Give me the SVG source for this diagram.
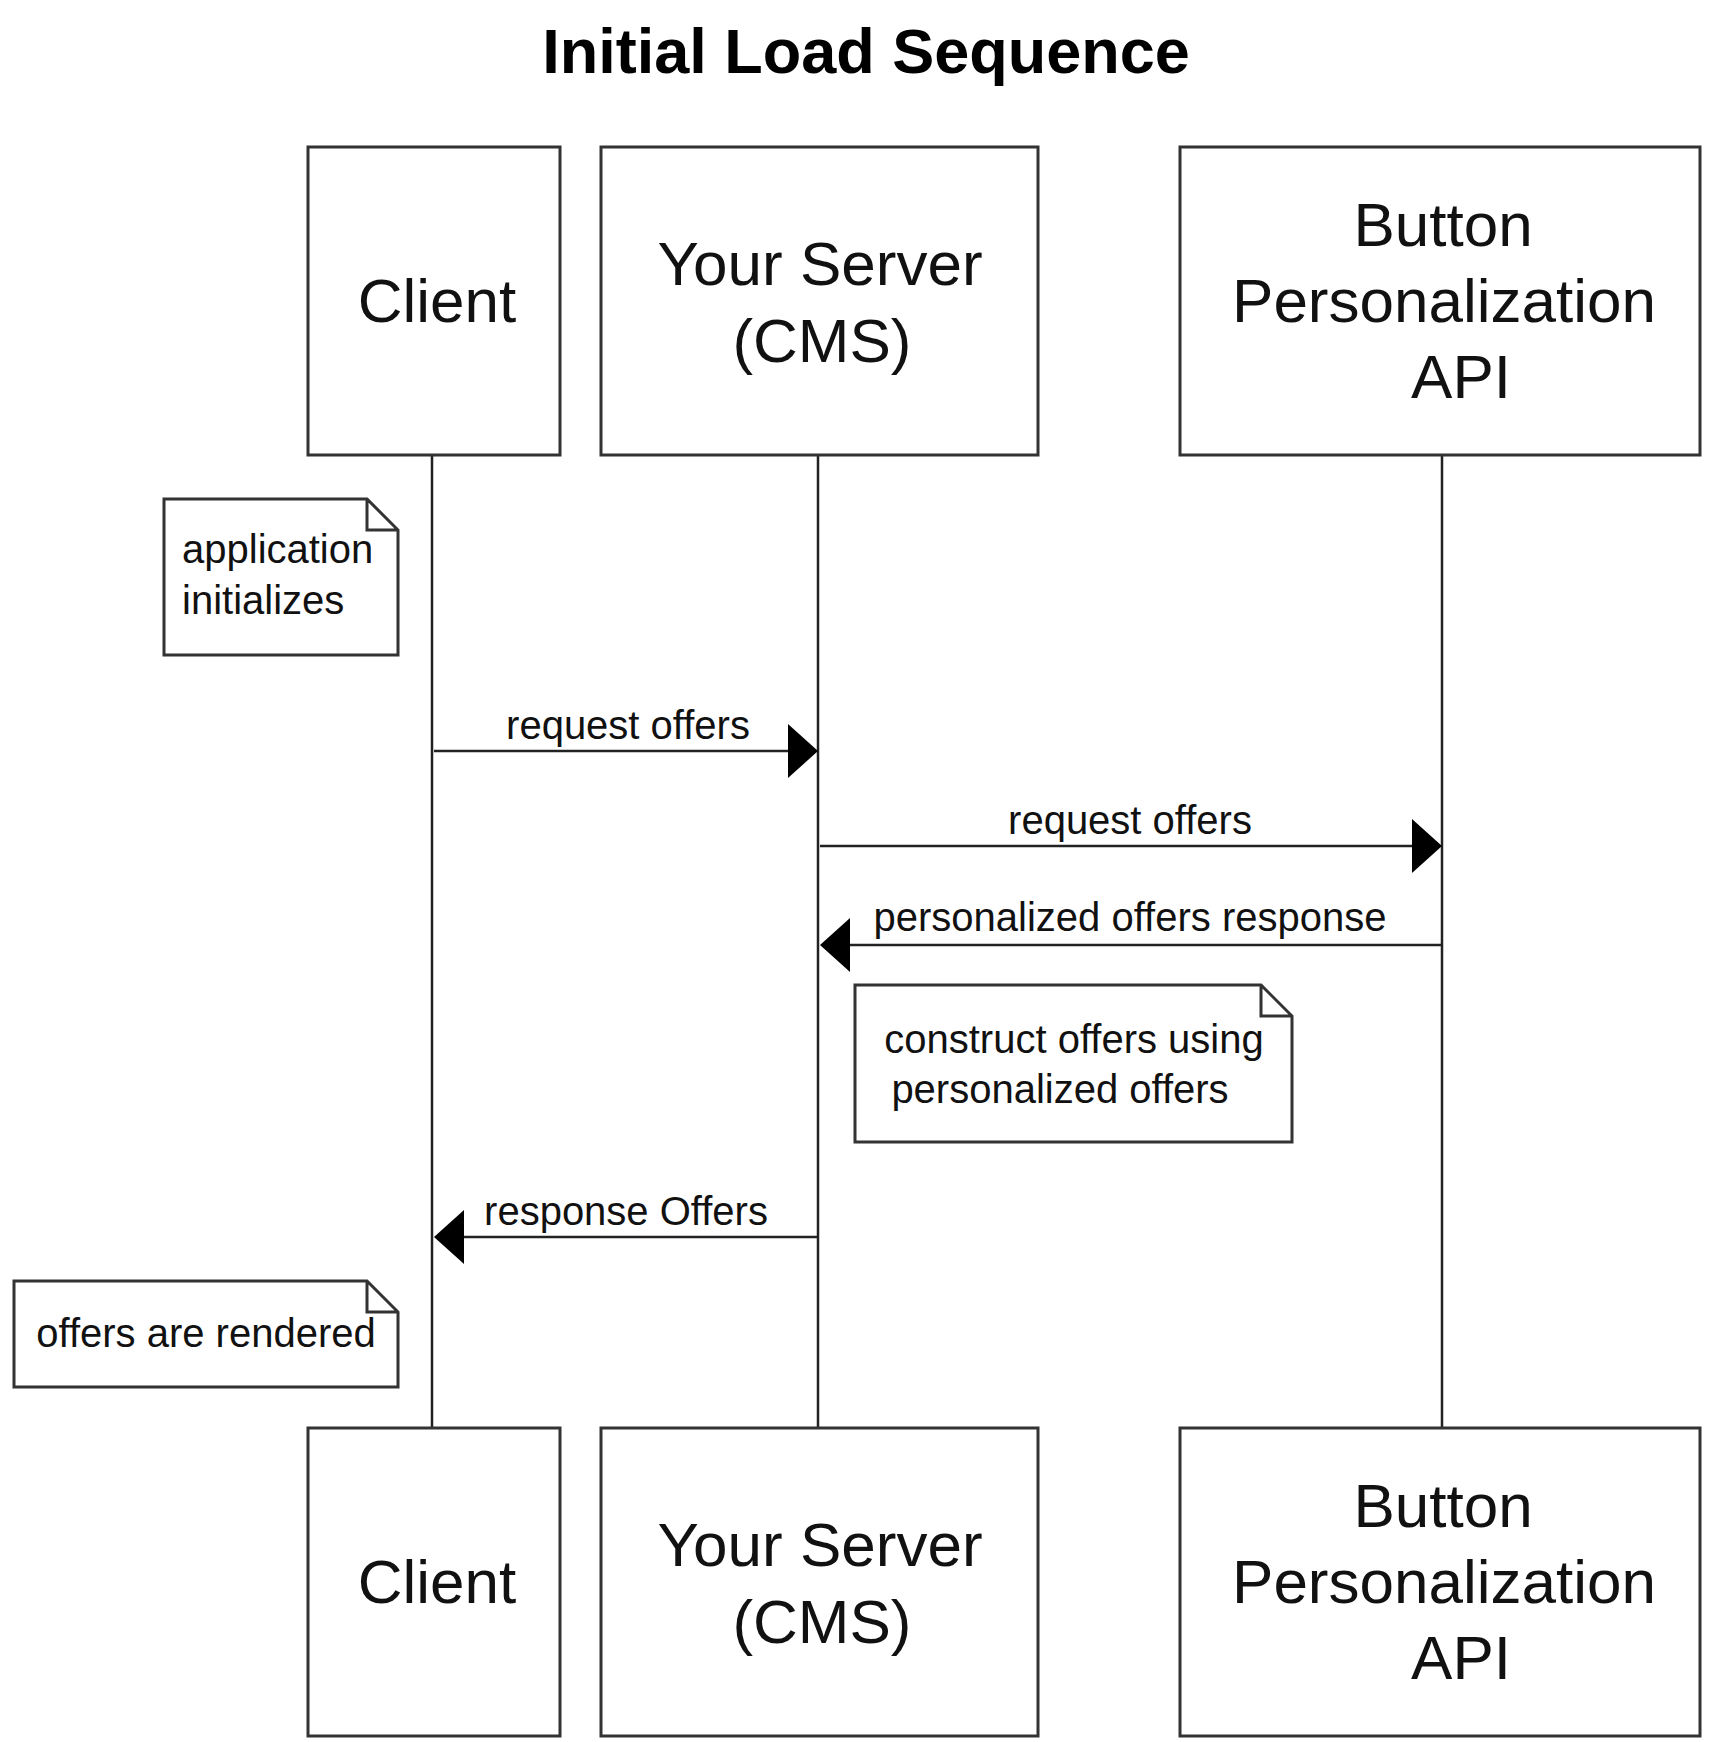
<svg xmlns="http://www.w3.org/2000/svg" width="1728" height="1742" viewBox="0 0 1728 1742">
<style>
.box{fill:#fff;stroke:#333;stroke-width:3}
.lt{font-family:"Liberation Sans",Arial,sans-serif;font-size:62px;fill:#111;text-anchor:middle}
.mt{font-family:"Liberation Sans",Arial,sans-serif;font-size:40px;fill:#111;text-anchor:middle}
.ln{stroke:#222;stroke-width:2.5;fill:none}
.ah{fill:#000}
</style>
<rect width="1728" height="1742" fill="#fff"/>
<text x="866" y="73" font-family="Liberation Sans,Arial,sans-serif" font-weight="bold" font-size="63" text-anchor="middle" fill="#000">Initial Load Sequence</text>
<g id="connectors">
<line class="ln" x1="432" y1="455" x2="432" y2="1428"/>
<line class="ln" x1="818" y1="455" x2="818" y2="1428"/>
<line class="ln" x1="1442" y1="455" x2="1442" y2="1428"/>
<line class="ln" x1="434" y1="751" x2="790" y2="751"/>
<polygon class="ah" points="818,751 788,724 788,778"/>
<text class="mt" x="628" y="739">request offers</text>
<line class="ln" x1="820" y1="846" x2="1414" y2="846"/>
<polygon class="ah" points="1442,846 1412,819 1412,873"/>
<text class="mt" x="1130" y="834">request offers</text>
<line class="ln" x1="846" y1="945" x2="1442" y2="945"/>
<polygon class="ah" points="820,945 850,918 850,972"/>
<text class="mt" x="1130" y="931">personalized offers response</text>
<line class="ln" x1="460" y1="1237" x2="818" y2="1237"/>
<polygon class="ah" points="434,1237 464,1210 464,1264"/>
<text class="mt" x="626" y="1225">response Offers</text>
</g>
<g id="client-top"><rect class="box" x="308" y="147" width="252" height="308"/><text class="lt" x="437" y="322">Client</text></g>
<g id="server-top"><rect class="box" x="601" y="147" width="437" height="308"/><text class="lt"><tspan x="820" y="285">Your Server</tspan><tspan x="822" y="362">(CMS)</tspan></text></g>
<g id="api-top"><rect class="box" x="1180" y="147" width="520" height="308"/><text class="lt"><tspan x="1443" y="246">Button</tspan><tspan x="1444" y="322">Personalization</tspan><tspan x="1461" y="398">API</tspan></text></g>
<g id="client-bottom"><rect class="box" x="308" y="1428" width="252" height="308"/><text class="lt" x="437" y="1603">Client</text></g>
<g id="server-bottom"><rect class="box" x="601" y="1428" width="437" height="308"/><text class="lt"><tspan x="820" y="1566">Your Server</tspan><tspan x="822" y="1643">(CMS)</tspan></text></g>
<g id="api-bottom"><rect class="box" x="1180" y="1428" width="520" height="308"/><text class="lt"><tspan x="1443" y="1527">Button</tspan><tspan x="1444" y="1603">Personalization</tspan><tspan x="1461" y="1679">API</tspan></text></g>
<g id="note-init"><path class="box" d="M164,499 H367 L398,530 V655 H164 Z M367,499 V530 H398"/><text class="mt" style="text-anchor:start" x="182" y="563">application</text><text class="mt" style="text-anchor:start" x="182" y="614">initializes</text></g>
<g id="note-construct"><path class="box" d="M855,985 H1261 L1292,1016 V1142 H855 Z M1261,985 V1016 H1292"/><text class="mt" x="1074" y="1053">construct offers using</text><text class="mt" x="1060" y="1103">personalized offers</text></g>
<g id="note-rendered"><path class="box" d="M14,1281 H367 L398,1312 V1387 H14 Z M367,1281 V1312 H398"/><text class="mt" x="206" y="1347">offers are rendered</text></g>
</svg>
